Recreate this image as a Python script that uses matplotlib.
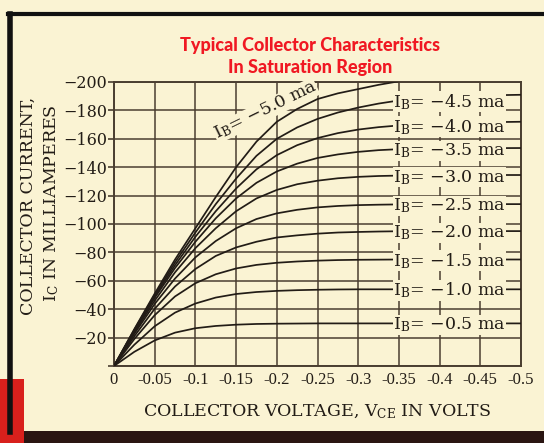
import matplotlib.pyplot as plt
from matplotlib.patches import Rectangle
from matplotlib.lines import Line2D

plt.rcParams['font.family'] = ['DejaVu Serif']
plt.rcParams['mathtext.fontset'] = 'dejavuserif'

# collector voltage (V) sample points
vce = [0, -0.025, -0.05, -0.075, -0.1, -0.125, -0.15, -0.175, -0.2, -0.225,
       -0.25, -0.275, -0.3, -0.325, -0.35, -0.375, -0.4, -0.45, -0.5]

# collector current (mA) for each base current curve
ic_50 = [0, -26, -51, -75, -97, -119, -140, -158, -172, -181, -188, -192, -195, -198, -200.5, -203, -205.5, -209, -212]
ic_45 = [0, -25.6, -50, -73, -94, -114, -132, -148, -160, -168, -174, -178.5, -182, -184.8, -187, -188.5, -189.5, -190.5, -191]
ic_40 = [0, -25, -49, -71, -91, -109, -125, -138.5, -148.5, -155.5, -160.5, -164, -166.5, -168.2, -169.4, -170.3, -171, -171.6, -172]
ic_35 = [0, -24.5, -48, -69, -87.5, -104, -118, -129, -137, -142.5, -146.5, -149, -150.8, -152, -152.7, -153, -153.2, -153.4, -153.5]
ic_30 = [0, -23.7, -46, -66, -83, -97, -109, -118, -124, -128, -130.5, -132.2, -133.2, -133.8, -134.1, -134.3, -134.4, -134.5, -134.5]
ic_25 = [0, -22.7, -43.7, -61.6, -76.5, -88, -97, -103.5, -107.5, -110, -111.7, -112.7, -113.3, -113.6, -113.8, -113.9, -114, -114, -114]
ic_20 = [0, -21, -40.3, -56, -68.3, -77.5, -83.5, -87.5, -90.5, -92, -93.2, -94, -94.4, -94.7, -94.9, -95, -95, -95, -95]
ic_15 = [0, -19, -35.8, -49, -58.3, -64.6, -68.7, -71.2, -72.7, -73.6, -74.2, -74.6, -74.8, -74.9, -75, -75, -75, -75, -75]
ic_10 = [0, -15, -28, -37.6, -44, -48.2, -50.7, -52.1, -52.9, -53.4, -53.7, -53.9, -54, -54, -54, -54, -54, -54, -54]
ic_05 = [0, -10, -18, -23.5, -26.6, -28.2, -29.1, -29.6, -29.8, -29.9, -30, -30, -30, -30, -30, -30, -30, -30, -30]

curves = [ic_50, ic_45, ic_40, ic_35, ic_30, ic_25, ic_20, ic_15, ic_10, ic_05]
ib_labels = ['-5.0', '-4.5', '-4.0', '-3.5', '-3.0', '-2.5', '-2.0', '-1.5', '-1.0', '-0.5']

x_ticks = [0, -0.05, -0.1, -0.15, -0.2, -0.25, -0.3, -0.35, -0.4, -0.45, -0.5]
x_ticklabels = ['0', '-0.05', '-0.1', '-0.15', '-0.2', '-0.25', '-0.3', '-0.35', '-0.4', '-0.45', '-0.5']
y_ticks = [-200, -180, -160, -140, -120, -100, -80, -60, -40, -20]
y_ticklabels = ['\u2212200', '\u2212180', '\u2212160', '\u2212140', '\u2212120',
                '\u2212100', '\u221280', '\u221260', '\u221240', '\u221220']

bg = '#faf3d3'
ink = '#221c16'
grid = '#4a3e30'

fig = plt.figure(figsize=(5.44, 4.43), dpi=100, facecolor=bg)
ax = fig.add_axes([114/544, 1 - 366/443, 407/544, 284/443])
ax.set_facecolor(bg)

ax.set_xlim(0, -0.5)
ax.set_ylim(0, -200)
ax.set_xticks(x_ticks)
ax.set_xticklabels(x_ticklabels, fontsize=12, family='Liberation Serif', color=ink)
ax.set_yticks(y_ticks + [0])
ax.set_yticklabels(y_ticklabels + [''], fontsize=11.5, color=ink)
ax.tick_params(axis='x', length=0, pad=4)
ax.tick_params(axis='y', length=4, width=1.2, color=grid, pad=1)
ax.grid(True, color=grid, lw=1.1)
for s in ax.spines.values():
    s.set_color(grid)
    s.set_linewidth(1.4)

for ic in curves:
    ax.plot(vce, ic, color=ink, lw=1.25, zorder=3)

# right-hand labels, sitting on each curve near -0.35 V
for ic, lab in zip(curves[1:], ib_labels[1:]):
    ax.text(-0.343, ic[14] + 4.5, r'$\mathrm{I_B}$= ' + lab.replace('-', '\u2212') + ' ma',
            fontsize=12.5, color=ink, ha='left', va='baseline', zorder=4,
            bbox=dict(facecolor=bg, edgecolor='none', pad=0.5))

ax.text(-0.186, -180, r'$\mathrm{I_B}$= ' + ib_labels[0].replace('-', '\u2212') + ' ma',
        fontsize=12.5, color=ink, ha='center', va='center', rotation=26,
        rotation_mode='anchor', zorder=4,
        bbox=dict(facecolor=bg, edgecolor='none', pad=0.2))

# titles and axis labels
fig.text(310/544, 1 - 45/443, 'Typical Collector Characteristics', color='#f01822',
         fontsize=13, fontweight='black', family='Lato', ha='center', va='center')
fig.text(310/544, 1 - 68/443, 'In Saturation Region', color='#f01822',
         fontsize=13, fontweight='black', family='Lato', ha='center', va='center')

fig.text(28/544, 1 - 206/443, 'COLLECTOR CURRENT,', rotation=90, fontsize=12.5,
         color=ink, ha='center', va='center')
fig.text(52/544, 1 - 203/443, r'$\mathrm{I_C}$ IN MILLIAMPERES', rotation=90, fontsize=12.5,
         color=ink, ha='center', va='center')
fig.text(317/544, 1 - 412/443, r'COLLECTOR VOLTAGE, $\mathrm{V_{CE}}$ IN VOLTS',
         fontsize=12.5, color=ink, ha='center', va='center')

# page frame
fig.add_artist(Line2D([8/544, 1], [1 - 14/443, 1 - 14/443], transform=fig.transFigure,
                      color='#111111', lw=3))
fig.add_artist(Line2D([10/544, 10/544], [1 - 14/443, 1 - 432/443], transform=fig.transFigure,
                      color='#111111', lw=4))
fig.add_artist(Rectangle((0, 0), 1, 12/443, transform=fig.transFigure,
                         facecolor='#2a1512', edgecolor='none'))
fig.add_artist(Rectangle((0, 0), 24/544, 64/443, transform=fig.transFigure,
                         facecolor='#d8201c', edgecolor='none'))

fig.savefig('out.png', dpi=100, facecolor=bg)
